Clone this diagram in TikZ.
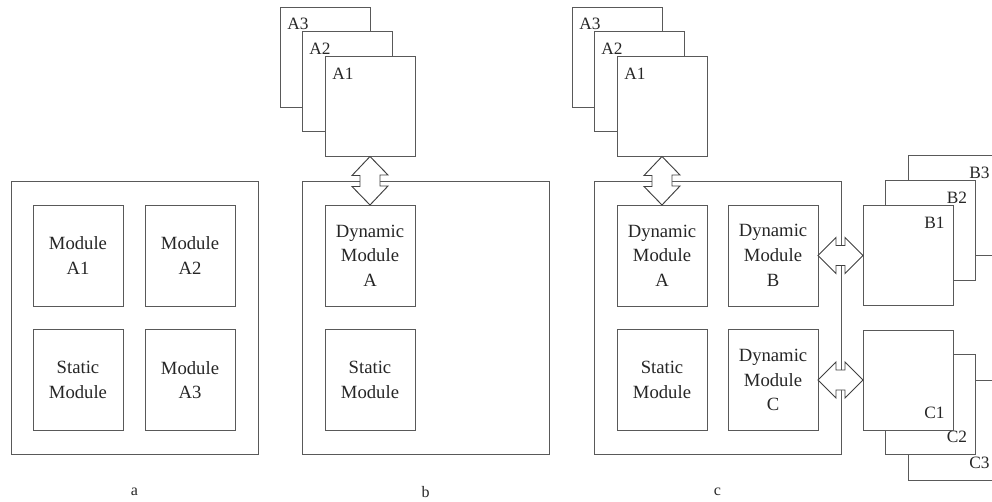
\documentclass[tikz,border=0pt]{standalone}
\usepackage{fontspec}
\setmainfont{Liberation Serif}
\usetikzlibrary{calc}
\begin{document}
\begin{tikzpicture}[x=0.75pt,y=-0.75pt,
  line width=0.7pt,
  box/.style={draw=black!65, fill=white, rectangle, inner sep=0pt, outer sep=0pt},
  modbox/.style={box, minimum width=67.5pt, minimum height=75.75pt, align=center,
    font=\fontsize{14}{18.5}\selectfont, text=black!85},
  outerbox/.style={box, minimum width=185.25pt, minimum height=204.75pt},
  pagebox/.style={box, minimum width=67.5pt, minimum height=75pt},
  tag/.style={font=\fontsize{13}{15}\selectfont, text=black!85, inner sep=0pt},
  caption/.style={font=\fontsize{12}{14}\selectfont, text=black!85},
  bigarrow/.style={draw=black!75, fill=white, line join=miter}
]
\useasboundingbox (0,0) rectangle (992,502);
\clip (0,0) rectangle (992,502);

% ---------------- panel a ----------------
\node[outerbox] (oa) at (134.5,317.5) {};
\node[modbox] (aM1) at (78,255.5) {Module\\A1};
\node[modbox] (aM2) at (190,255.5) {Module\\A2};
\node[modbox] (aS) at (78,380) {Static\\Module};
\node[modbox] (aM3) at (190,380) {Module\\A3};
\node[caption] (capa) at (134.5,492) {a};

% ---------------- panel b ----------------
\node[outerbox] (ob) at (425.5,317.5) {};
\node[modbox] (bDA) at (370,255.5) {Dynamic\\Module\\A};
\node[modbox] (bS) at (370,380) {Static\\Module};
\node[pagebox] (bA3) at (325,57) {};
\node[tag, anchor=north west] (tbA3) at ($(bA3.north west)+(7,11)$) {A3};
\node[pagebox] (bA2) at (347,81.5) {};
\node[tag, anchor=north west] (tbA2) at ($(bA2.north west)+(7,11)$) {A2};
\node[pagebox] (bA1) at (370,106.5) {};
\node[tag, anchor=north west] (tbA1) at ($(bA1.north west)+(7,11)$) {A1};
\draw[bigarrow] (bA1.south) -- ++(-18,19) -- ++(8,0) -- ++(0,11) -- ++(-8,0)
  -- (bDA.north) -- ++(18,-19) -- ++(-8,0) -- ++(0,-11) -- ++(8,0) -- cycle;
\node[caption] (capb) at (425.5,492) {b};

% ---------------- panel c ----------------
\node[outerbox] (oc) at (717.5,317.5) {};
\node[modbox] (cDA) at (662,255.5) {Dynamic\\Module\\A};
\node[modbox] (cDB) at (773,255.5) {Dynamic\\Module\\B};
\node[modbox] (cS) at (662,380) {Static\\Module};
\node[modbox] (cDC) at (773,380) {Dynamic\\Module\\C};

\node[pagebox] (cA3) at (617,57) {};
\node[tag, anchor=north west] (tcA3) at ($(cA3.north west)+(7,11)$) {A3};
\node[pagebox] (cA2) at (639,81.5) {};
\node[tag, anchor=north west] (tcA2) at ($(cA2.north west)+(7,11)$) {A2};
\node[pagebox] (cA1) at (662,106.5) {};
\node[tag, anchor=north west] (tcA1) at ($(cA1.north west)+(7,11)$) {A1};

\node[pagebox] (cB3) at (953,205.5) {};
\node[tag, anchor=north east] (tcB3) at ($(cB3.north east)+(-8,11)$) {B3};
\node[pagebox] (cB2) at (930.5,230.5) {};
\node[tag, anchor=north east] (tcB2) at ($(cB2.north east)+(-8,11)$) {B2};
\node[pagebox] (cB1) at (908,255.5) {};
\node[tag, anchor=north east] (tcB1) at ($(cB1.north east)+(-8,11)$) {B1};

\node[pagebox] (cC3) at (953,430) {};
\node[tag, anchor=south east] (tcC3) at ($(cC3.south east)+(-8,-11)$) {C3};
\node[pagebox] (cC2) at (930.5,404.5) {};
\node[tag, anchor=south east] (tcC2) at ($(cC2.south east)+(-8,-11)$) {C2};
\node[pagebox] (cC1) at (908,380) {};
\node[tag, anchor=south east] (tcC1) at ($(cC1.south east)+(-8,-11)$) {C1};

\draw[bigarrow] (cA1.south) -- ++(-18,19) -- ++(8,0) -- ++(0,11) -- ++(-8,0)
  -- (cDA.north) -- ++(18,-19) -- ++(-8,0) -- ++(0,-11) -- ++(8,0) -- cycle;
\draw[bigarrow] (cDB.east) -- ++(18,-18) -- ++(0,8) -- ++(9,0) -- ++(0,-8)
  -- (cB1.west) -- ++(-18,18) -- ++(0,-8) -- ++(-9,0) -- ++(0,8) -- cycle;
\draw[bigarrow] (cDC.east) -- ++(18,-18) -- ++(0,8) -- ++(9,0) -- ++(0,-8)
  -- (cC1.west) -- ++(-18,18) -- ++(0,-8) -- ++(-9,0) -- ++(0,8) -- cycle;
\node[caption] (capc) at (717.5,492) {c};
\end{tikzpicture}
\end{document}
